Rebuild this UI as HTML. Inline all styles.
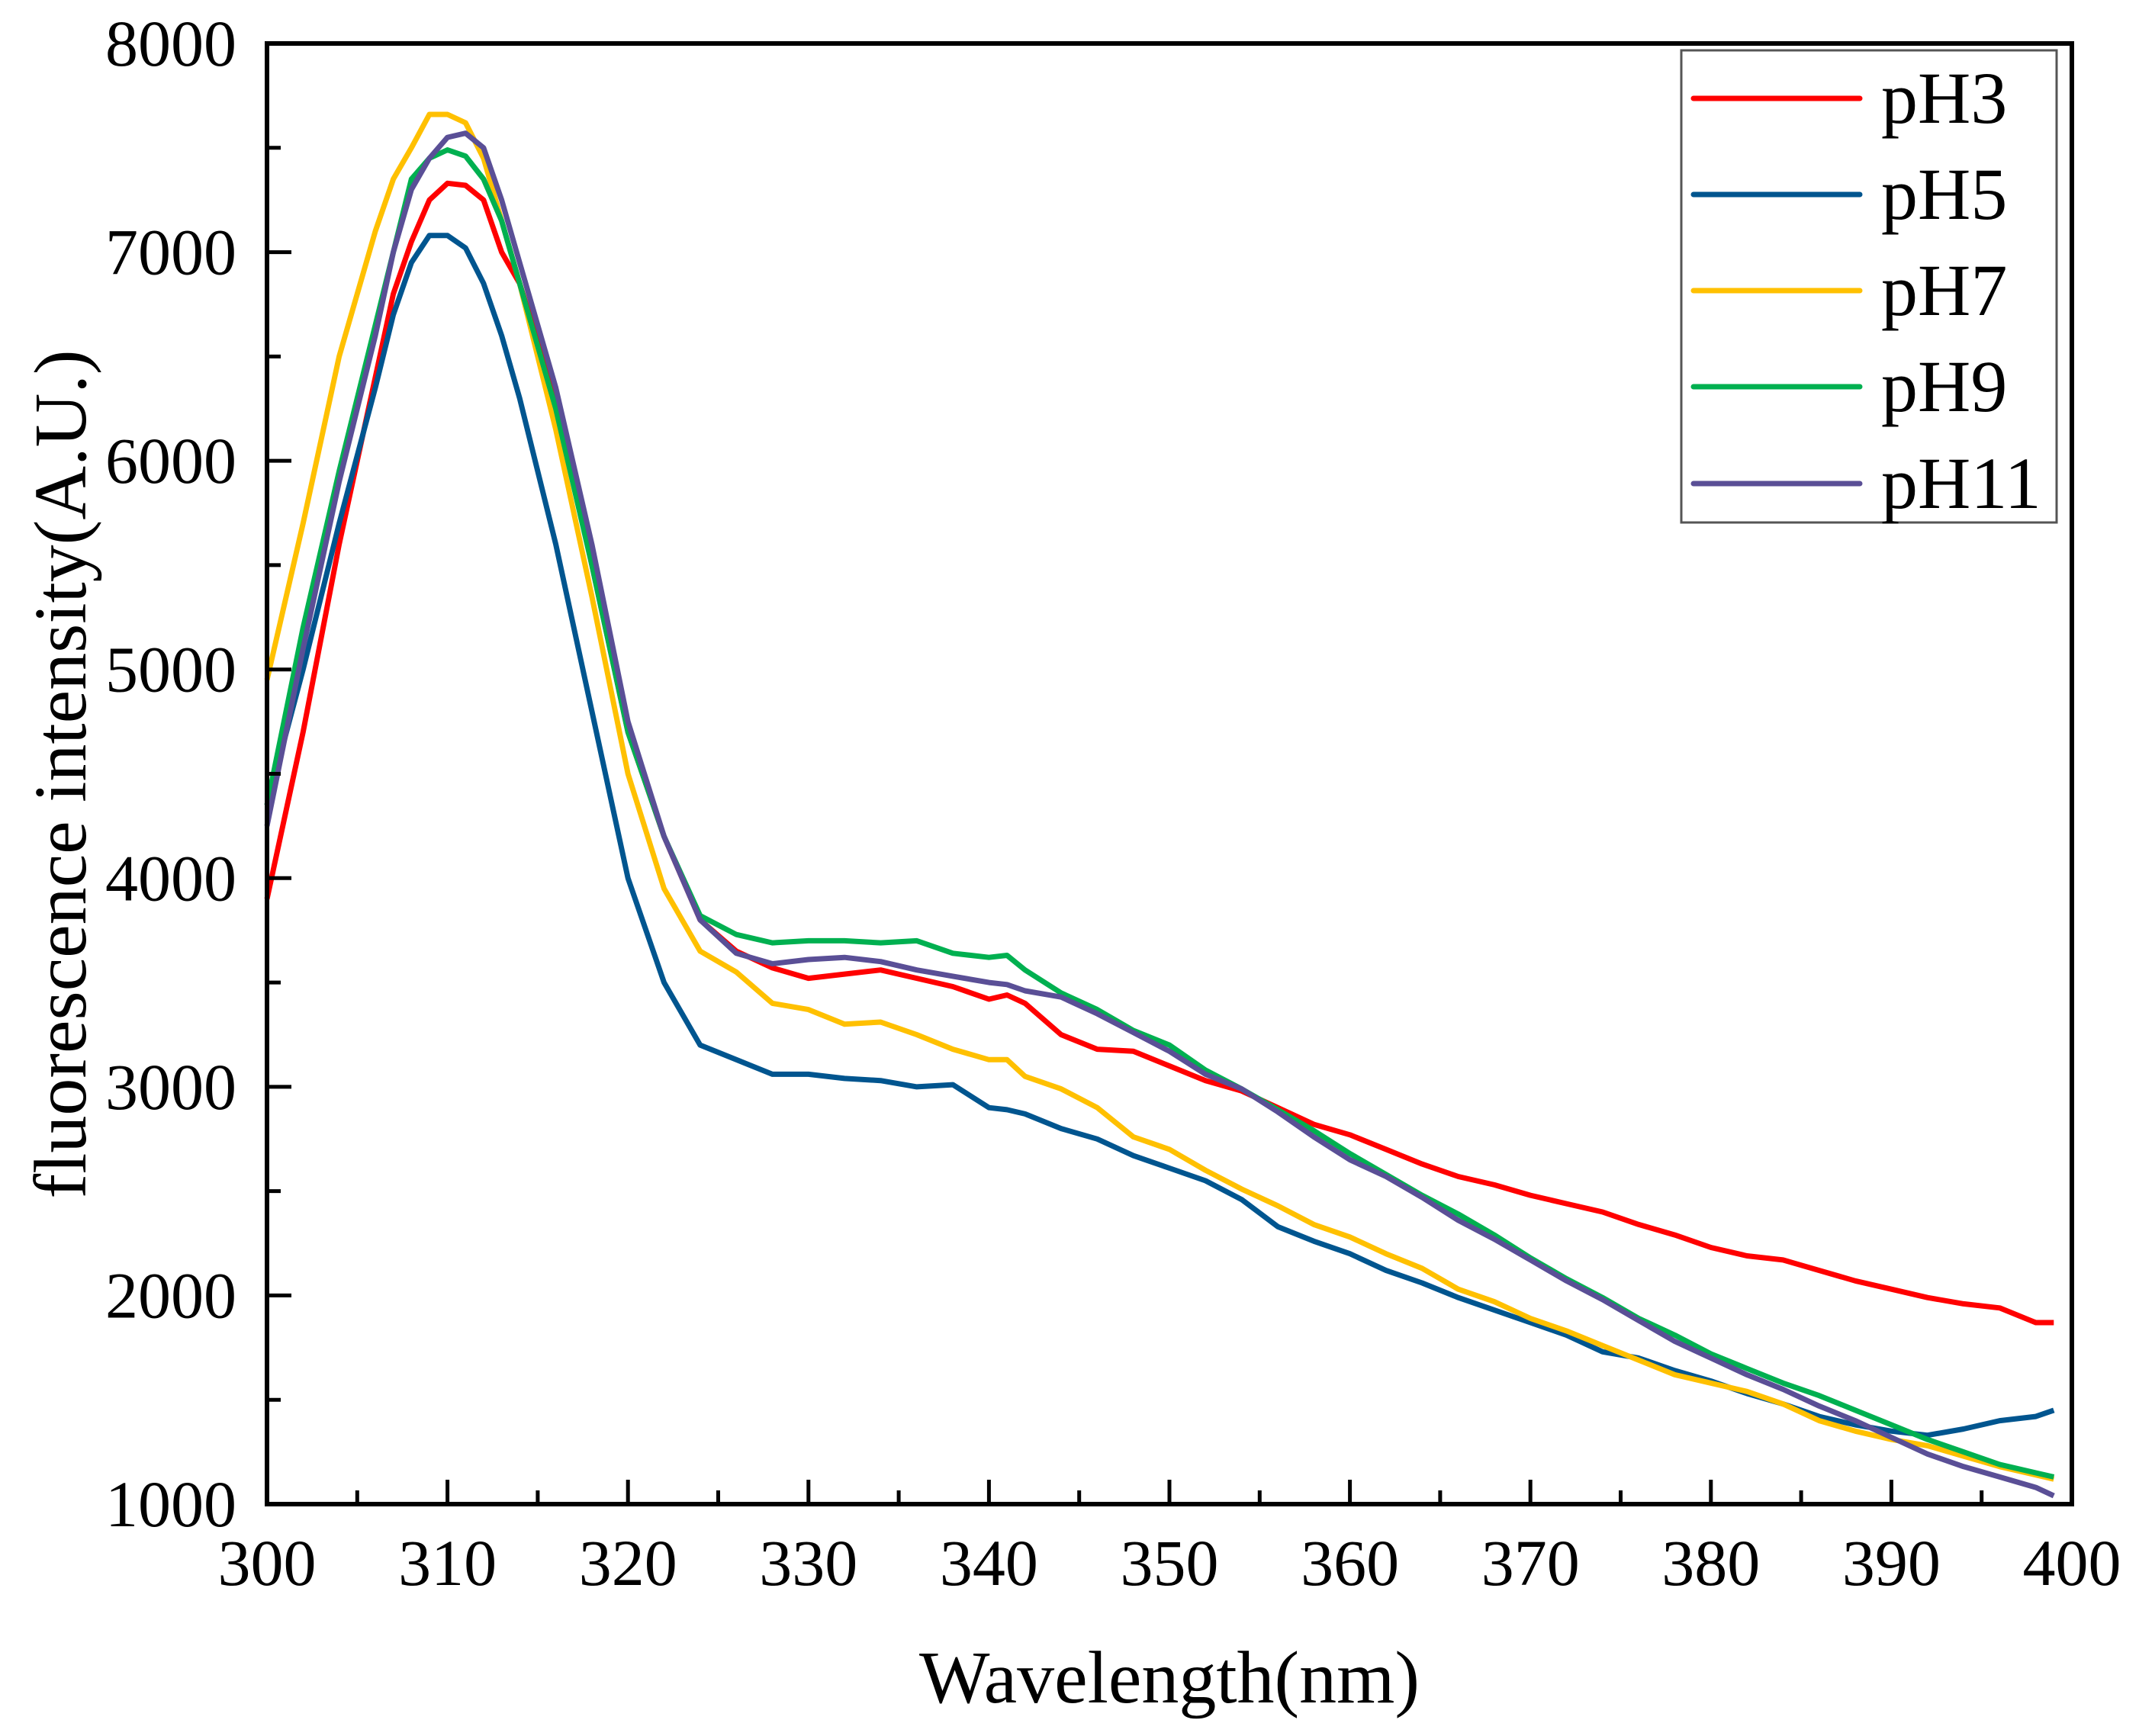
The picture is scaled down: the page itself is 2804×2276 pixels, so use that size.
<!DOCTYPE html>
<html><head><meta charset="utf-8"><style>
html,body{margin:0;padding:0;background:#fff}
svg{display:block}
text{font-family:"Liberation Serif",serif;fill:#000}
</style></head><body>
<svg id="chart" width="2804" height="2276" viewBox="0 0 2804 2276" xmlns="http://www.w3.org/2000/svg">
<g id="series"></g>
<g id="axes"></g>
<text x="1533" y="2232" font-size="98" text-anchor="middle">Wavelength(nm)</text>
<text transform="translate(112,1015) rotate(-90)" font-size="98" text-anchor="middle">fluorescence intensity(A.U.)</text>
<g id="legend"></g>
</svg>
<script>
const wavelengths=[300,302,304,306,307,308,309,310,311,312,313,314,316,318,320,322,324,326,328,330,332,334,336,338,340,341,342,344,346,348,350,352,354,356,358,360,362,364,366,368,370,372,374,376,378,380,382,384,386,388,390,392,394,396,398,399];
const pH3=[3900,4700,5600,6400,6800,7050,7250,7330,7320,7250,7000,6850,6300,5500,4700,4200,3800,3650,3570,3520,3540,3560,3520,3480,3420,3440,3400,3250,3180,3170,3100,3030,2980,2900,2820,2770,2700,2630,2570,2530,2480,2440,2400,2340,2290,2230,2190,2170,2120,2070,2030,1990,1960,1940,1870,1870];
const pH5=[4350,5000,5700,6350,6700,6950,7080,7080,7020,6850,6600,6300,5600,4800,4000,3500,3200,3130,3060,3060,3040,3030,3000,3010,2900,2890,2870,2800,2750,2670,2610,2550,2460,2330,2260,2200,2120,2060,1990,1930,1870,1810,1730,1700,1640,1590,1530,1480,1420,1380,1350,1330,1360,1400,1420,1450];
const pH7=[4950,5700,6500,7100,7350,7500,7660,7660,7620,7450,7150,6850,6150,5350,4500,3950,3650,3550,3400,3370,3300,3310,3250,3180,3130,3130,3050,2990,2900,2760,2700,2600,2510,2430,2340,2280,2200,2130,2030,1970,1890,1830,1760,1690,1620,1580,1540,1480,1400,1350,1310,1280,1230,1180,1140,1120];
const pH9=[4350,5200,5950,6650,7000,7350,7450,7490,7460,7350,7150,6850,6250,5500,4700,4200,3820,3730,3690,3700,3700,3690,3700,3640,3620,3630,3560,3450,3370,3270,3200,3080,2990,2890,2790,2680,2580,2480,2390,2290,2180,2080,1990,1890,1810,1720,1650,1580,1520,1450,1380,1310,1250,1190,1150,1130];
const pH11=[4250,5100,5900,6600,7000,7300,7450,7550,7570,7500,7250,6950,6350,5600,4750,4200,3800,3640,3590,3610,3620,3600,3560,3530,3500,3490,3460,3430,3350,3260,3170,3060,2990,2880,2760,2650,2570,2470,2360,2270,2170,2070,1980,1880,1780,1700,1620,1550,1470,1400,1320,1240,1180,1130,1080,1040];
const seriesNames=["pH3","pH5","pH7","pH9","pH11"];
const xTicks=[300,310,320,330,340,350,360,370,380,390,400];
const yTicks=[1000,2000,3000,4000,5000,6000,7000,8000];

const NS="http://www.w3.org/2000/svg";
const L=350,R=2716,T=57,B=1972;
const X=v=>L+(v-300)/100*(R-L);
const Y=v=>B-(v-1000)/7000*(B-T);
const colors=["#ff0000","#00558f","#ffc000","#00b050","#5a4f96"];
const all=[pH3,pH5,pH7,pH9,pH11];
function mk(tag,attrs,parent){const e=document.createElementNS(NS,tag);for(const k in attrs)e.setAttribute(k,attrs[k]);parent.appendChild(e);return e;}
const sg=document.getElementById('series');
all.forEach((arr,i)=>{
  const d=arr.map((v,j)=>(j?'L':'M')+X(wavelengths[j]).toFixed(1)+' '+Y(v).toFixed(1)).join(' ');
  const p=mk('path',{d:d,fill:'none',stroke:colors[i],'stroke-width':7,'stroke-linejoin':'round'},sg);
  
  
});
const ax=document.getElementById('axes');
const fr=mk('rect',{x:L,y:T,width:R-L,height:B-T,fill:'none',stroke:'#000','stroke-width':6},ax);


for(let v=300;v<=400;v+=5){
  const maj=v%10===0;const len=maj?32:18;
  const t=mk('line',{x1:X(v),x2:X(v),y1:B,y2:B-len,stroke:'#000','stroke-width':5},ax);
  
  
}
for(let v=1000;v<=8000;v+=500){
  const maj=v%1000===0;const len=maj?32:18;
  const t=mk('line',{x1:L,x2:L+len,y1:Y(v),y2:Y(v),stroke:'#000','stroke-width':5},ax);
  
  
}
xTicks.forEach(v=>{
  const t=mk('text',{x:X(v),y:2078,'font-size':86,'text-anchor':'middle'},ax);
  t.textContent=v;
  
  
});
yTicks.forEach(v=>{
  const t=mk('text',{x:310,y:Y(v)+29,'font-size':86,'text-anchor':'end'},ax);
  t.textContent=v;
  
  
});
const lg=document.getElementById('legend');
const box=mk('rect',{x:2204,y:66,width:492,height:619,fill:'#fff',stroke:'#555','stroke-width':3},lg);


const rows=[129,255,381,507,634];
seriesNames.forEach((n,i)=>{
  const ln=mk('line',{x1:2220,x2:2438,y1:rows[i],y2:rows[i],stroke:colors[i],'stroke-width':7,'stroke-linecap':'round'},lg);
  
  
  const t=mk('text',{x:2466,y:rows[i]+32,'font-size':96},lg);
  t.textContent=n;
  
  
});
</script>
</body></html>
